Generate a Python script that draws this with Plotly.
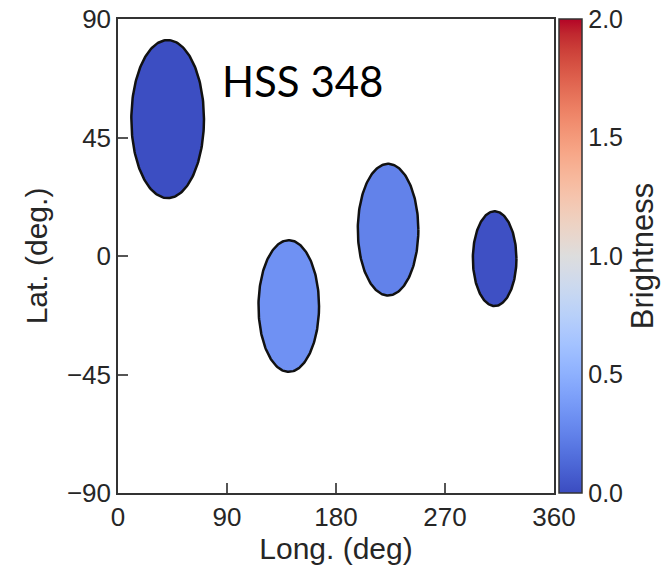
import numpy as np
import plotly.graph_objects as go
from plotly.colors import sample_colorscale

# ---- data ----
spot_long = [41, 141, 223, 311]        # centre longitude (deg)
spot_lat = [52, -19, 10, -1]           # centre latitude (deg)
spot_radius = [30, 25, 25, 18]         # angular radius (deg)
spot_brightness = [0.01, 0.33, 0.25, 0.02]
x_ticks = [0, 90, 180, 270, 360]
y_ticks = [-90, -45, 0, 45, 90]
cb_ticks = [0.0, 0.5, 1.0, 1.5, 2.0]
label_text = "HSS 348"

# matplotlib coolwarm
cw = [
    (0.0, (0.2298057, 0.298717966, 0.753683153)),
    (0.03125, (0.26623388, 0.353094838, 0.801466763)),
    (0.0625, (0.30386891, 0.406535296, 0.84495867)),
    (0.09375, (0.342804478, 0.458757618, 0.883725899)),
    (0.125, (0.38301334, 0.50941904, 0.917387822)),
    (0.15625, (0.424369608, 0.558148092, 0.945619588)),
    (0.1875, (0.46666708, 0.604562568, 0.968154911)),
    (0.21875, (0.509635204, 0.648280772, 0.98478814)),
    (0.25, (0.552953156, 0.688929332, 0.995375608)),
    (0.28125, (0.596262162, 0.726149107, 0.999836203)),
    (0.3125, (0.639176211, 0.759599947, 0.998151185)),
    (0.34375, (0.681291281, 0.788964712, 0.990363227)),
    (0.375, (0.722193294, 0.813952739, 0.976574709)),
    (0.40625, (0.761464949, 0.834302879, 0.956945269)),
    (0.4375, (0.798691636, 0.849786142, 0.931688648)),
    (0.46875, (0.833466556, 0.860207984, 0.901068838)),
    (0.5, (0.865395197, 0.86541021, 0.865395561)),
    (0.53125, (0.897787179, 0.848937047, 0.820880546)),
    (0.5625, (0.924127593, 0.827384882, 0.774508472)),
    (0.59375, (0.944468518, 0.800927443, 0.726736146)),
    (0.625, (0.958852946, 0.769767752, 0.678007945)),
    (0.65625, (0.96732803, 0.734132809, 0.628751763)),
    (0.6875, (0.969954137, 0.694266682, 0.579375448)),
    (0.71875, (0.966811177, 0.650421156, 0.530263762)),
    (0.75, (0.958003065, 0.602842431, 0.481775914)),
    (0.78125, (0.943660866, 0.551750968, 0.434243684)),
    (0.8125, (0.923944917, 0.49730856, 0.387970225)),
    (0.84375, (0.89904617, 0.439559467, 0.343229596)),
    (0.875, (0.869186849, 0.378313092, 0.300267182)),
    (0.90625, (0.834620542, 0.312874446, 0.259301199)),
    (0.9375, (0.795631745, 0.24128379, 0.220525627)),
    (0.96875, (0.752534934, 0.157246067, 0.184115123)),
    (1.0, (0.705673158, 0.01555616, 0.150232812)),
]
coolwarm = [[p, "rgb(%d,%d,%d)" % tuple(round(255 * c) for c in rgb)] for p, rgb in cw]

CMIN, CMAX = 0.0, 2.0
W, H = 669, 573
ML, MR, MT, MB = 118, 115, 19, 80
PW = W - ML - MR
CB_LEFT = 559

fig = go.Figure()

t = np.linspace(0, 2 * np.pi, 200)
for lo, la, r, b in zip(spot_long, spot_lat, spot_radius, spot_brightness):
    col = sample_colorscale(coolwarm, [(b - CMIN) / (CMAX - CMIN)])[0]
    fig.add_trace(go.Scatter(
        x=lo + r * np.cos(t), y=la + r * np.sin(t),
        mode="lines", fill="toself", fillcolor=col,
        line=dict(color="#111111", width=2.5),
        showlegend=False, hoverinfo="skip",
    ))

# colorbar carrier
fig.add_trace(go.Scatter(
    x=[spot_long[0]], y=[spot_lat[0]], mode="markers",
    marker=dict(size=0.1, opacity=0, color=[spot_brightness[0]], colorscale=coolwarm,
                cmin=CMIN, cmax=CMAX, showscale=True,
                colorbar=dict(
                    x=(CB_LEFT - ML) / PW, xanchor="left", xpad=0,
                    y=0.5, yanchor="middle", ypad=0,
                    len=1.0, lenmode="fraction", thickness=23,
                    outlinecolor="#333333", outlinewidth=1.5,
                    tickvals=cb_ticks, tickformat=".1f", ticks="",
                    tickfont=dict(family="Liberation Sans", size=25, color="#262626"),
                    title=dict(text="Brightness", side="right",
                               font=dict(family="Liberation Sans", size=31, color="#262626")),
                )),
    showlegend=False, hoverinfo="skip",
))

fig.add_annotation(
    x=152, y=66.5, xref="x", yref="y", text=label_text, showarrow=False,
    font=dict(family="Lato", size=42, color="black"),
)

axis_common = dict(
    showgrid=False, zeroline=False, showline=True, mirror=True,
    linecolor="#333333", linewidth=1.5, ticks="inside", ticklen=10,
    tickwidth=1.5, tickcolor="#555555",
    tickfont=dict(family="Liberation Sans", size=26, color="#262626"),
)
fig.update_xaxes(range=[0, 360], tickvals=x_ticks, **axis_common,
                 title=dict(text="Long. (deg)", standoff=6,
                            font=dict(family="Liberation Sans", size=30, color="#262626")))
fig.update_yaxes(range=[-90, 90], tickvals=y_ticks, **axis_common,
                 title=dict(text="Lat. (deg.)", standoff=10,
                            font=dict(family="Liberation Sans", size=30, color="#262626")))

fig.update_layout(
    width=W, height=H,
    margin=dict(l=ML, r=MR, t=MT, b=MB, autoexpand=False),
    paper_bgcolor="white", plot_bgcolor="white",
)

fig.write_html("out.html")
